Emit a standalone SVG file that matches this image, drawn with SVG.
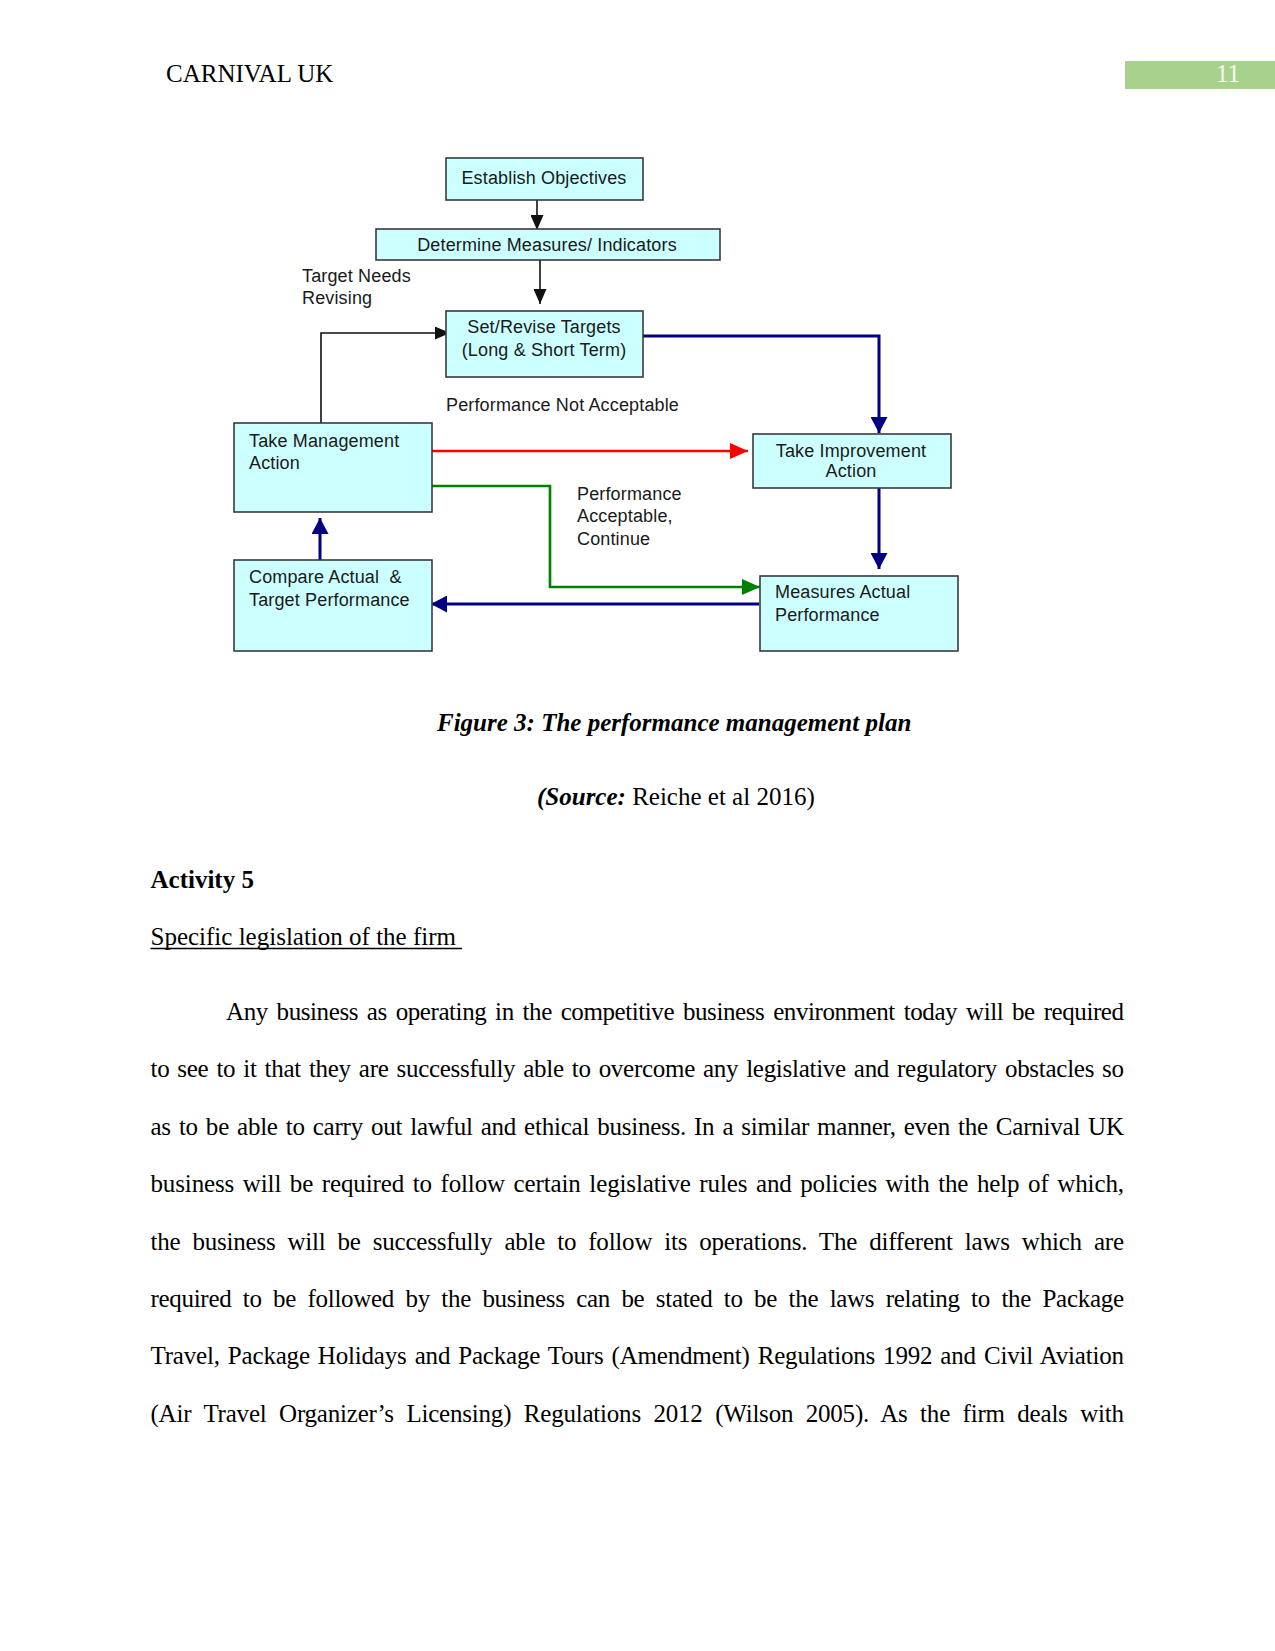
<svg xmlns="http://www.w3.org/2000/svg" width="1275" height="1651" viewBox="0 0 1275 1651">
<style>
.box{fill:#ccffff;stroke:#3a3a3a;stroke-width:1.6}
.dt{font-family:"Liberation Sans",Arial,sans-serif;font-size:18px;fill:#1a1a1a;letter-spacing:0.15px}
.mid{text-anchor:middle}
.blk{fill:none;stroke:#111;stroke-width:1.6}
.blu{fill:none;stroke:#000080;stroke-width:3}
.red{fill:none;stroke:#ff0000;stroke-width:2.6}
.grn{fill:none;stroke:#008000;stroke-width:2.6}
.ser{font-family:"Liberation Serif","Times New Roman",serif;font-size:25px;fill:#000}
.body{font-family:"Liberation Serif","Times New Roman",serif;font-size:25px;fill:#000}
</style>
<defs>
<marker id="ahBlack" markerUnits="userSpaceOnUse" markerWidth="15" markerHeight="13" refX="15" refY="6.5" orient="auto"><path d="M0,0 L15,6.5 L0,13 z" fill="#111"/></marker>
<marker id="ahBlue" markerUnits="userSpaceOnUse" markerWidth="16" markerHeight="17" refX="16" refY="8.5" orient="auto"><path d="M0,0 L16,8.5 L0,17 z" fill="#000080"/></marker>
<marker id="ahRed" markerUnits="userSpaceOnUse" markerWidth="18" markerHeight="16" refX="18" refY="8" orient="auto"><path d="M0,0 L18,8 L0,16 z" fill="#ff0000"/></marker>
<marker id="ahGreen" markerUnits="userSpaceOnUse" markerWidth="18" markerHeight="16" refX="18" refY="8" orient="auto"><path d="M0,0 L18,8 L0,16 z" fill="#008000"/></marker>
</defs>

<g id="header">
<text class="ser" x="166" y="82">CARNIVAL UK</text>
<rect x="1125" y="61" width="150" height="28" fill="#a9d18e"/>
<text class="ser" x="1216" y="82" style="fill:#f4faf0">11</text>
</g>

<g id="connectors">
<line class="blk" x1="537" y1="200" x2="537" y2="230" marker-end="url(#ahBlack)"/>
<line class="blk" x1="540" y1="260" x2="540" y2="304" marker-end="url(#ahBlack)"/>
<polyline class="blk" points="321,423 321,333 450,333" marker-end="url(#ahBlack)"/>
<polyline class="blu" points="643,336 879,336 879,433" marker-end="url(#ahBlue)"/>
<line class="red" x1="432" y1="451" x2="748" y2="451" marker-end="url(#ahRed)"/>
<polyline class="grn" points="432,486 550,486 550,587 760,587" marker-end="url(#ahGreen)"/>
<line class="blu" x1="879" y1="488" x2="879" y2="569" marker-end="url(#ahBlue)"/>
<line class="blu" x1="759" y1="604" x2="431" y2="604" marker-end="url(#ahBlue)"/>
<line class="blu" x1="320" y1="560" x2="320" y2="518" marker-end="url(#ahBlue)"/>
</g>

<g id="establish">
<rect class="box" x="446" y="158" width="197" height="42"/>
<text class="dt mid" x="544" y="184">Establish Objectives</text>
</g>
<g id="determine">
<rect class="box" x="376" y="229" width="344" height="31"/>
<text class="dt mid" x="547" y="251">Determine Measures/ Indicators</text>
</g>
<g id="setrevise">
<rect class="box" x="446" y="311" width="197" height="66"/>
<text class="dt mid" x="544" y="333">Set/Revise Targets</text>
<text class="dt mid" x="544" y="356">(Long &amp; Short Term)</text>
</g>
<g id="management">
<rect class="box" x="234" y="423" width="198" height="89"/>
<text class="dt" x="249" y="447">Take Management</text>
<text class="dt" x="249" y="469">Action</text>
</g>
<g id="improvement">
<rect class="box" x="753" y="434" width="198" height="54"/>
<text class="dt mid" x="851" y="457">Take Improvement</text>
<text class="dt mid" x="851" y="477">Action</text>
</g>
<g id="compare">
<rect class="box" x="234" y="560" width="198" height="91"/>
<text class="dt" x="249" y="583" xml:space="preserve">Compare Actual  &amp;</text>
<text class="dt" x="249" y="606">Target Performance</text>
</g>
<g id="measures">
<rect class="box" x="760" y="576" width="198" height="75"/>
<text class="dt" x="775" y="598">Measures Actual</text>
<text class="dt" x="775" y="621">Performance</text>
</g>

<g id="labels">
<text class="dt" x="302" y="282">Target Needs</text>
<text class="dt" x="302" y="304">Revising</text>
<text class="dt" x="446" y="411">Performance Not Acceptable</text>
<text class="dt" x="577" y="500">Performance</text>
<text class="dt" x="577" y="522">Acceptable,</text>
<text class="dt" x="577" y="545">Continue</text>
</g>

<g id="caption">
<text class="ser" x="437" y="731" font-weight="bold" font-style="italic">Figure 3: The performance management plan</text>
<text class="ser" x="537" y="805"><tspan font-weight="bold" font-style="italic">(Source:</tspan> Reiche et al 2016)</text>
</g>

<g id="bodytext">
<text class="ser" x="150.5" y="888" font-weight="bold">Activity 5</text>
<text class="ser" x="150.5" y="945">Specific legislation of the firm</text>
<line x1="150.5" y1="948.5" x2="462" y2="948.5" stroke="#000" stroke-width="1.6"/>
<text class="body" x="226" y="1020" word-spacing="3" textLength="898" lengthAdjust="spacing">Any business as operating in the competitive business environment today will be required</text>
<text class="body" x="150.5" y="1077.4" word-spacing="2" textLength="973.5" lengthAdjust="spacing">to see to it that they are successfully able to overcome any legislative and regulatory obstacles so</text>
<text class="body" x="150.5" y="1134.8" word-spacing="2" textLength="973.5" lengthAdjust="spacing">as to be able to carry out lawful and ethical business. In a similar manner, even the Carnival UK</text>
<text class="body" x="150.5" y="1192.2" word-spacing="2.5" textLength="973.5" lengthAdjust="spacing">business will be required to follow certain legislative rules and policies with the help of which,</text>
<text class="body" x="150.5" y="1249.6" word-spacing="6" textLength="973.5" lengthAdjust="spacing">the business will be successfully able to follow its operations. The different laws which are</text>
<text class="body" x="150.5" y="1307" word-spacing="5.5" textLength="973.5" lengthAdjust="spacing">required to be followed by the business can be stated to be the laws relating to the Package</text>
<text class="body" x="150.5" y="1364.4" word-spacing="2" textLength="973.5" lengthAdjust="spacing">Travel, Package Holidays and Package Tours (Amendment) Regulations 1992 and Civil Aviation</text>
<text class="body" x="150.5" y="1421.8" word-spacing="6.5" textLength="973.5" lengthAdjust="spacing">(Air Travel Organizer’s Licensing) Regulations 2012 (Wilson 2005). As the firm deals with</text>
</g>
</svg>
